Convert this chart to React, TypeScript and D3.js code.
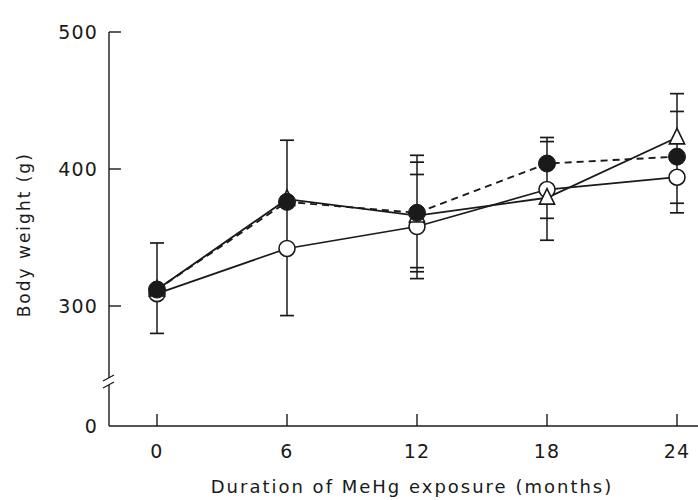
import React from "react";
import * as d3 from "d3";

const months = [0, 6, 12, 18, 24];
const xTicks = [0, 6, 12, 18, 24];
const yTicks = [0, 300, 400, 500];

// Series: filled circle (dashed), triangle (solid), open circle (solid)
const filledVals = [312, 376, 368, 404, 409];
const triVals = [312, 378, 366, 379, 423];
const openVals = [309, 342, 358, 385, 394];

// Error-bar caps (value of cap, null = no cap drawn)
const filledHi = [346, null, 405, 423, 442];
const filledLo = [null, null, 325, null, 368];
const triHi = [null, 421, 410, 420, 455];
const triLo = [null, null, 320, 348, null];
const openHi = [null, null, 396, null, null];
const openLo = [280, 293, 328, 364, 375];

const W = 698;
const H = 500;

export default function App() {
  const x = d3.scaleLinear().domain([0, 24]).range([157, 677]);
  const y = d3.scaleLinear().domain([0, 250, 500]).range([426, 374.5, 32]);
  const axisX0 = 109;
  const axisY0 = 426;

  const lineGen = d3
    .line<number>()
    .x((_, i) => x(months[i]))
    .y((d) => y(d));

  const allCaps = [filledHi, filledLo, triHi, triLo, openHi, openLo];
  const bars = months.map((m, i) => {
    const vals = allCaps.map((c) => c[i]).filter((v) => v !== null) as number[];
    return { m, lo: d3.min(vals)!, hi: d3.max(vals)!, caps: vals };
  });

  const font = "'DejaVu Sans', sans-serif";
  const ink = "#1a1a1a";
  const triPath = (cx: number, cy: number) => {
    const s = 8;
    return `M${cx},${cy - s * 1.15} L${cx + s * 0.95},${cy + s * 0.8} L${cx - s * 0.95},${cy + s * 0.8} Z`;
  };

  return (
    <svg width={W} height={H} style={{ position: "absolute", left: 0, top: 0, background: "#fff" }}>
      {/* Y axis with break */}
      <line x1={axisX0} x2={axisX0} y1={y(500)} y2={378} stroke={ink} strokeWidth={1.4} />
      <line x1={axisX0} x2={axisX0} y1={385} y2={axisY0} stroke={ink} strokeWidth={1.4} />
      <line x1={axisX0 - 6} x2={axisX0 + 5} y1={381} y2={375} stroke={ink} strokeWidth={1.3} />
      <line x1={axisX0 - 6} x2={axisX0 + 5} y1={388} y2={382} stroke={ink} strokeWidth={1.3} />
      {yTicks.filter((t) => t > 0).map((t) => (
        <line key={t} x1={axisX0} x2={axisX0 + 12} y1={y(t)} y2={y(t)} stroke={ink} strokeWidth={1.4} />
      ))}
      {yTicks.map((t) => (
        <text key={"yl" + t} x={axisX0 - 11} y={y(t)} dy="0.36em" textAnchor="end" fontFamily={font} fontSize={19} letterSpacing={1.2} fill={ink}>
          {t}
        </text>
      ))}
      <text
        transform={`translate(30,${y(352)}) rotate(-90)`}
        textAnchor="middle"
        fontFamily={font}
        fontSize={17}
        letterSpacing={2}
        fill={ink}
      >
        Body weight (g)
      </text>

      {/* X axis */}
      <line x1={axisX0} x2={W} y1={axisY0} y2={axisY0} stroke={ink} strokeWidth={1.3} />
      {xTicks.map((t) => (
        <g key={"xt" + t}>
          <line x1={x(t)} x2={x(t)} y1={axisY0} y2={axisY0 - 12} stroke={ink} strokeWidth={1.4} />
          <text x={x(t)} y={axisY0 + 32} textAnchor="middle" fontFamily={font} fontSize={19} letterSpacing={1.2} fill={ink}>
            {t}
          </text>
        </g>
      ))}
      <text x={412} y={493} textAnchor="middle" fontFamily={font} fontSize={18} letterSpacing={2} fill={ink}>
        Duration of MeHg exposure (months)
      </text>

      {/* Lines */}
      <path d={lineGen(openVals) || ""} fill="none" stroke={ink} strokeWidth={1.7} />
      <path d={lineGen(triVals) || ""} fill="none" stroke={ink} strokeWidth={1.9} />
      <path d={lineGen(filledVals) || ""} fill="none" stroke={ink} strokeWidth={1.9} strokeDasharray="7,5" />

      {/* Error bars */}
      {bars.map((b) => (
        <g key={"eb" + b.m}>
          <line x1={x(b.m)} x2={x(b.m)} y1={y(b.lo)} y2={y(b.hi)} stroke={ink} strokeWidth={1.5} />
          {b.caps.map((c, j) => (
            <line key={j} x1={x(b.m) - 7} x2={x(b.m) + 7} y1={y(c)} y2={y(c)} stroke={ink} strokeWidth={1.7} />
          ))}
        </g>
      ))}

      {/* Markers */}
      {openVals.map((v, i) => (
        <circle key={"o" + i} cx={x(months[i])} cy={y(v)} r={8} fill="#fff" stroke={ink} strokeWidth={1.6} />
      ))}
      {triVals.map((v, i) => (
        <path key={"t" + i} d={triPath(x(months[i]), y(v))} fill="#fff" stroke={ink} strokeWidth={1.6} />
      ))}
      {filledVals.map((v, i) => (
        <circle key={"f" + i} cx={x(months[i])} cy={y(v)} r={8.5} fill={ink} stroke={ink} strokeWidth={1} />
      ))}
    </svg>
  );
}
